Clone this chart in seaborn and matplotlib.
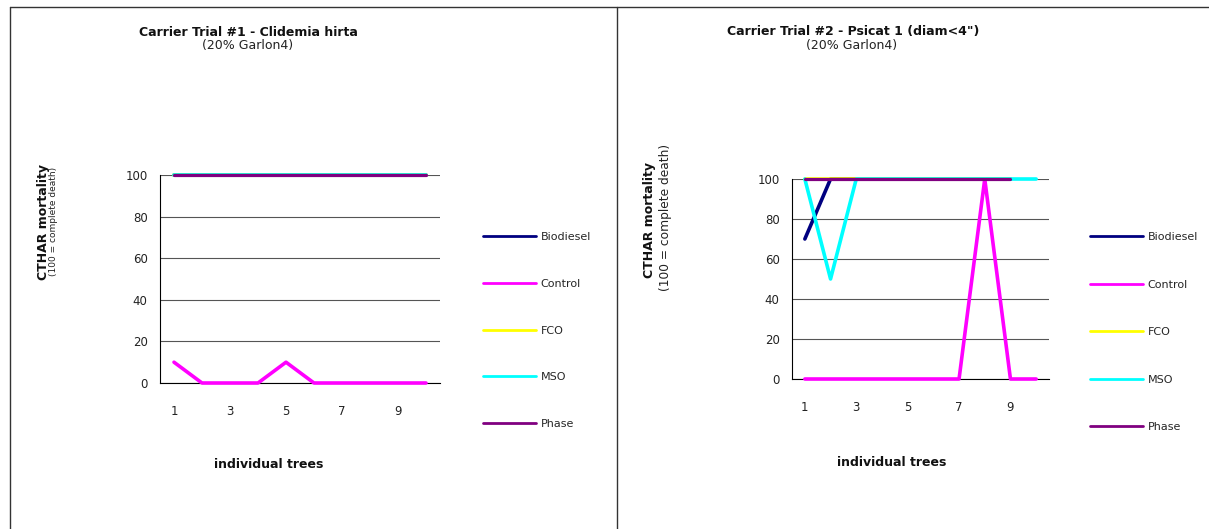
import pandas as pd
import numpy as np
import seaborn as sns
import matplotlib
matplotlib.use('Agg')
import matplotlib.pyplot as plt
from matplotlib.lines import Line2D

# --- data ---
trees = list(range(1, 11))
treatments = ['Biodiesel', 'Control', 'FCO', 'MSO', 'Phase']
colors = ['#000080', '#FF00FF', '#FFFF00', '#00FFFF', '#800080']

trial1 = {
    'Biodiesel': [100, 100, 100, 100, 100, 100, 100, 100, 100, 100],
    'Control':   [10, 0, 0, 0, 10, 0, 0, 0, 0, 0],
    'FCO':       [100, 100, 100, 100, 100, 100, 100, 100, 100, 100],
    'MSO':       [100, 100, 100, 100, 100, 100, 100, 100, 100, 100],
    'Phase':     [100, 100, 100, 100, 100, 100, 100, 100, 100, 100],
}
trial2 = {
    'Biodiesel': [70, 100, 100, 100, 100, 100, 100, 100, 100, np.nan],
    'Control':   [0, 0, 0, 0, 0, 0, 0, 100, 0, 0],
    'FCO':       [100, 100, 100, 100, 100, 100, 100, 100, 100, np.nan],
    'MSO':       [100, 50, 100, 100, 100, 100, 100, 100, 100, 100],
    'Phase':     [100, 100, 100, 100, 100, 100, 100, 100, 100, np.nan],
}
yticks = [0, 20, 40, 60, 80, 100]
xlabels = [1, 3, 5, 7, 9]

titles = ['Carrier Trial #1 - Clidemia hirta', 'Carrier Trial #2 - Psicat 1 (diam<4")']
subtitle = '(20% Garlon4)'

W, H = 1209, 529
sns.set_style('white')
plt.rcParams['font.family'] = ['DejaVu Sans']
fig = plt.figure(figsize=(W / 100, H / 100), dpi=100)


def fx(px):
    return px / W


def fy(py):
    return 1 - py / H


def long_df(d):
    rows = []
    for t in treatments:
        for x, v in zip(trees, d[t]):
            rows.append({'tree': x, 'treatment': t, 'mortality': v})
    return pd.DataFrame(rows).dropna()


def draw_panel(d, box, legend_pos, spacing):
    x0, x1, ytop, ybot = box
    ax = fig.add_axes([fx(x0), fy(ybot), fx(x1) - fx(x0), fy(ytop) - fy(ybot)])
    df = long_df(d)
    sns.lineplot(data=df, x='tree', y='mortality', hue='treatment',
                 hue_order=treatments, palette=colors, linewidth=2.6,
                 estimator=None, ax=ax, clip_on=False, zorder=3)
    for line in ax.get_lines():
        if line.get_color() == '#800080':
            line.set_linewidth(2.3)
    ax.set_xlim(0.5, 10.5)
    ax.set_ylim(0, 100)
    ax.set_yticks(yticks)
    ax.set_xticks(np.arange(0.5, 11, 1))
    ax.set_xticklabels([])
    ax.set_xticks(xlabels, minor=True)
    ax.set_xticklabels([str(v) for v in xlabels], minor=True)
    ax.tick_params(axis='x', which='major', direction='out', length=4, width=0.8, color='black')
    ax.tick_params(axis='x', which='minor', length=0, pad=16, labelsize=8.5, labelcolor='#222222')
    ax.tick_params(axis='y', direction='out', length=4, width=0.8, color='black', pad=5,
                   labelsize=8.5, labelcolor='#222222')
    ax.yaxis.grid(True, color='#555555', linewidth=0.8)
    ax.set_axisbelow(True)
    for s in ['top', 'right']:
        ax.spines[s].set_visible(False)
    for s in ['left', 'bottom']:
        ax.spines[s].set_color('black')
        ax.spines[s].set_linewidth(0.8)
    ax.set_xlabel('')
    ax.set_ylabel('')
    handles, labels = ax.get_legend_handles_labels()
    for h in handles:
        h.set_linewidth(2.0)
    ax.legend(handles, labels, loc='upper left', bbox_to_anchor=(fx(legend_pos[0]), fy(legend_pos[1])),
              bbox_transform=fig.transFigure, frameon=False, fontsize=8,
              handlelength=4.8, handletextpad=0.4, labelspacing=spacing, borderpad=0, borderaxespad=0)
    return ax


draw_panel(trial1, (160, 440, 175, 383), (483, 232), 3.31)
draw_panel(trial2, (792, 1049, 179, 379), (1090, 232), 3.38)

# titles
fig.text(fx(248), fy(32), titles[0], ha='center', va='center', fontsize=9, fontweight='bold', color='#111111')
fig.text(fx(248), fy(46), subtitle, ha='center', va='center', fontsize=9, color='#222222')
fig.text(fx(853), fy(32), titles[1], ha='center', va='center', fontsize=9, fontweight='bold', color='#111111')
fig.text(fx(852), fy(46), subtitle, ha='center', va='center', fontsize=9, color='#222222')

# axis titles
fig.text(fx(269), fy(465), 'individual trees', ha='center', va='center', fontsize=9, fontweight='bold', color='#111111')
fig.text(fx(892), fy(463), 'individual trees', ha='center', va='center', fontsize=9, fontweight='bold', color='#111111')
fig.text(fx(43), fy(222), 'CTHAR mortality', rotation=90, ha='center', va='center', fontsize=9, fontweight='bold', color='#111111')
fig.text(fx(53), fy(221), '(100 = complete death)', rotation=90, ha='center', va='center', fontsize=6.5, color='#222222')
fig.text(fx(650), fy(220), 'CTHAR mortality', rotation=90, ha='center', va='center', fontsize=9, fontweight='bold', color='#111111')
fig.text(fx(666), fy(217), '(100 = complete death)', rotation=90, ha='center', va='center', fontsize=8.8, color='#222222')

# chart frames
frame = dict(color='#333333', linewidth=1.0, transform=fig.transFigure)
fig.add_artist(Line2D([fx(10), fx(10)], [fy(7), 0], **frame))
fig.add_artist(Line2D([fx(10), 1], [fy(7), fy(7)], **frame))
fig.add_artist(Line2D([fx(617), fx(617)], [fy(7), 0], **frame))

plt.savefig('out.png', dpi=100)
